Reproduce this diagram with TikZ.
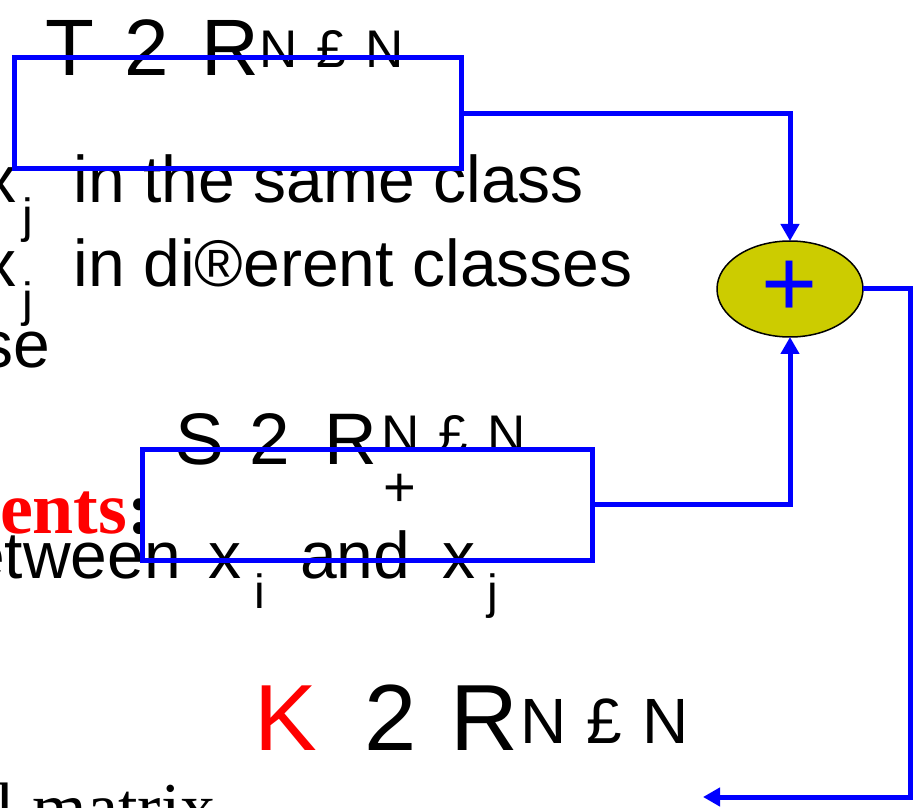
\documentclass[tikz,border=0pt]{standalone}
\usepackage{fontspec}
\setmainfont{Liberation Serif}
\setsansfont{Liberation Sans}
\usetikzlibrary{arrows.meta,shapes.geometric}
\definecolor{sumyellow}{RGB}{204,204,0}

\begin{document}
\begin{tikzpicture}[
    x=0.5pt,
    y=-0.5pt,
    every node/.style={inner sep=0pt, outer sep=0pt, anchor=base west},
    body/.style={font=\sffamily\fontsize{33}{36}\selectfont},
    sub/.style={font=\sffamily\fontsize{24}{26}\selectfont},
    tsym/.style={font=\sffamily\fontsize{40}{44}\selectfont},
    ssym/.style={font=\sffamily\fontsize{36.5}{40}\selectfont},
    ksym/.style={font=\sffamily\fontsize{47}{50}\selectfont},
    dimsup/.style={font=\sffamily\fontsize{26.5}{29}\selectfont},
    kdimsup/.style={font=\sffamily\fontsize{32}{35}\selectfont},
    heading/.style={font=\rmfamily\bfseries\fontsize{37}{40}\selectfont},
    serifrow/.style={font=\rmfamily\fontsize{35}{38}\selectfont},
    frame/.style={draw=blue, line width=2.5pt, anchor=center},
    sumnode/.style={ellipse, draw=black, line width=0.75pt, fill=sumyellow,
        minimum width=73pt, minimum height=48pt, anchor=center,
        text=blue, font=\sffamily\fontsize{48}{48}\selectfont},
    link/.style={draw=blue, line width=2.5pt,
        -{Triangle[length=8.5pt,width=9pt]}}
]
    \useasboundingbox (0,0) rectangle (923,808);
    \clip (0,0) rectangle (923,808);

    % text of the slide behind the diagram
    \node[body] (xone) at (-17,203) {x};
    \node[sub] (jone) at (23,233) {j};
    \node[body] (sameclass) at (74,203) {in the same class};
    \node[body] (xtwo) at (-17,287) {x};
    \node[sub] (jtwo) at (23,317) {j};
    \node[body] (diffclass) at (74,287) {in di®erent classes};
    \node[body, anchor=base east] (otherwise) at (50,368) {se};
    \node[heading] (ents) at (0,533) {\textcolor{red}{ents}:};
    \node[body, anchor=base east] (between) at (181,579) {etween};
    \node[body] (xi) at (208,579) {x};
    \node[sub] (isub) at (254,608) {i};
    \node[body] (and) at (300,579) {and};
    \node[body] (xj) at (442,579) {x};
    \node[sub] (jsub) at (487,608) {j};
    \node[serifrow] (kmatrix) at (-4,831) {l matrix};

    % T
    \node[tsym] (tname) at (46,76) {T};
    \node[tsym] (tin) at (125,76) {2};
    \node[tsym] (treal) at (201,76) {R};
    \node[dimsup] (tdim) at (259,68) {N\hspace{.37em}£\hspace{.37em}N};

    % S
    \node[ssym] (sname) at (175,465) {S};
    \node[ssym] (sin) at (249,465) {2};
    \node[ssym] (sreal) at (324,465) {R};
    \node[dimsup] (sdim) at (381,452) {N\hspace{.37em}£\hspace{.37em}N};
    \node[dimsup, font=\sffamily\fontsize{28}{30}\selectfont] (spos) at (383,506.5) {+};

    % K
    \node[ksym, text=red] (kname) at (254,750) {K};
    \node[ksym] (kin) at (364,750) {2};
    \node[ksym] (kreal) at (450.5,750) {R};
    \node[kdimsup] (kdim) at (520,743) {N\hspace{.32em}£\hspace{.32em}N};

    % boxes and sum
    \node[frame, minimum width=223.5pt, minimum height=55.5pt] (tbox) at (237.5,113.5) {};
    \node[frame, minimum width=225pt, minimum height=55.25pt] (sbox) at (367,505) {};
    \node[sumnode] (sum) at (790,289) {+};

    \coordinate (rail) at (910,797);
    \coordinate (kend) at (703,797);

    \draw[link] (tbox.east) -| (sum.north);
    \draw[link] (sbox.east) -| (sum.south);
    \draw[link] (sum.east) -| (rail) -- (kend);
\end{tikzpicture}
\end{document}
